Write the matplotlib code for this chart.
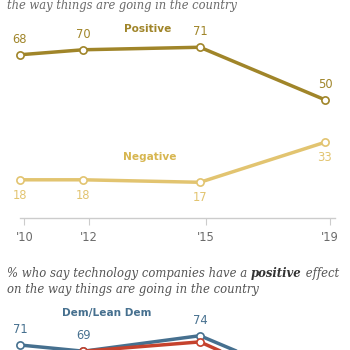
import matplotlib
matplotlib.use("Agg")
import matplotlib.pyplot as plt

# survey waves and their spot on the (unevenly spaced) time axis
tick_labels = ["'10", "'12", "'15", "'19"]
tick_pos = [0, 1.91, 5.34, 9.0]
wave_pos = [-0.13, 1.74, 5.17, 8.85]

positive = [68, 70, 71, 50]
negative = [18, 18, 17, 33]

dem = [71, 69, 74, 57]
rep = [66, 69, 72, 54]

gold_dark = "#A08529"
gold_light = "#E2C470"
blue = "#46708F"
red = "#C5422D"
grey_txt = "#6b6b6b"

W = H = 350


def fx(x):
    return x / W


def fy(y):
    return 1 - y / H


fig = plt.figure(figsize=(3.5, 3.5), dpi=100)
fig.patch.set_facecolor("white")

serif = "DejaVu Serif"
sans = "DejaVu Sans"

# top subtitle (clipped at the top in the reference)
fig.text(fx(7), fy(9), "the way things are going in the country", family=serif,
         style="italic", fontsize=8.3, color=grey_txt, va="baseline", ha="left")

# ---- top panel
ax1 = fig.add_axes([fx(20), fy(218.3), (335 - 20) / W, (218.3 - 20) / H])
ax1.set_xlim(-0.127, 9.146)
ax1.set_ylim(2.6, 81.9)


def draw_line(ax, vals, color, above=True, labcolor=None, z=3):
    ax.plot(wave_pos, vals, color=color, lw=2.5, marker="o", ms=5.2,
            mfc="white", mec=color, mew=1.2, clip_on=False, zorder=z,
            solid_capstyle="round")
    if labcolor is None:
        return
    off = 11 if above else -11
    for x, v in zip(wave_pos, vals):
        # skip labels that would land below the visible canvas
        _, ydisp = ax.transData.transform((x, v))
        if ydisp + off * fig.dpi / 72 < 8:
            continue
        ax.annotate(str(v), (x, v), xytext=(0, off), textcoords="offset points",
                    ha="center", va="center", fontsize=8.3, family=sans,
                    color=labcolor, annotation_clip=False)


draw_line(ax1, positive, gold_dark, True, gold_dark)
draw_line(ax1, negative, gold_light, False, gold_light)

ax1.set_xticks(tick_pos, tick_labels)
ax1.set_yticks([])
for s in ["top", "right", "left"]:
    ax1.spines[s].set_visible(False)
ax1.spines["bottom"].set_color("#cccccc")
ax1.spines["bottom"].set_linewidth(1.0)
ax1.tick_params(axis="x", length=5, width=0.8, color="#cccccc", pad=4,
                labelsize=8.3, labelcolor=grey_txt)
ax1.patch.set_alpha(0)

fig.text(fx(148), fy(29), "Positive", fontsize=7.6, fontweight="bold",
         family=sans, color=gold_dark, ha="center", va="center")
fig.text(fx(150), fy(157), "Negative", fontsize=7.6, fontweight="bold",
         family=sans, color="#D7B650", ha="center", va="center")

# ---- bottom subtitle with bold word
fig.canvas.draw()
r = fig.canvas.get_renderer()
pieces = [("% who say technology companies have a ", "normal"),
          ("positive", "bold"),
          (" effect", "normal")]
x = fx(7)
for txt, wt in pieces:
    t = fig.text(x, fy(277), txt, family=serif, style="italic", fontweight=wt,
                 fontsize=8.35, color="#555555" if wt == "normal" else "#333333",
                 va="baseline", ha="left")
    bb = t.get_window_extent(renderer=r)
    x = bb.x1 / fig.bbox.width
fig.text(fx(7), fy(293), "on the way things are going in the country", family=serif,
         style="italic", fontsize=8.35, color="#555555", va="baseline", ha="left")

# ---- bottom panel (runs off the bottom edge)
ax2 = fig.add_axes([fx(20), fy(420), (335 - 20) / W, 120 / H])
ax2.set_xlim(-0.127, 9.146)
ax2.set_ylim(71 - 75 / 3.1, 71 + 45 / 3.1)
ax2.axis("off")
draw_line(ax2, dem, blue, True, blue, z=3)
draw_line(ax2, rep, red, z=4)

fig.text(fx(107), fy(313), "Dem/Lean Dem", fontsize=7.6, fontweight="bold",
         family=sans, color=blue, ha="center", va="center")

fig.savefig("out.png", dpi=100)
